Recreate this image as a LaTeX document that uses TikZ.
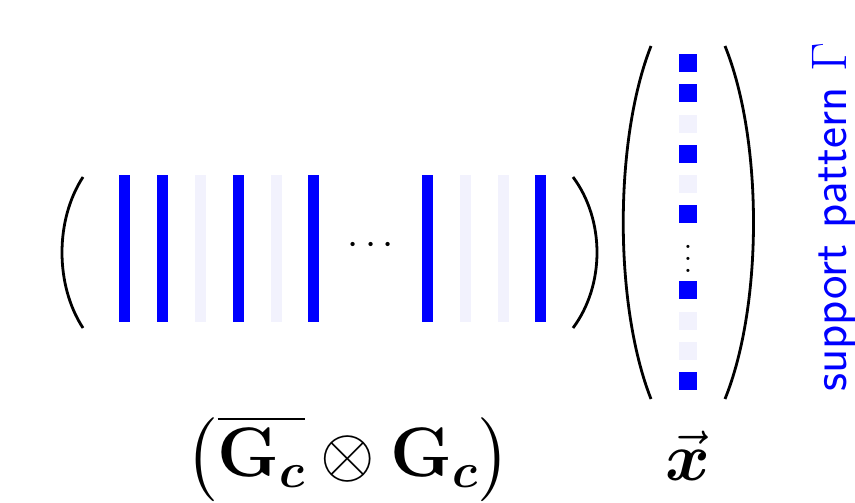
\documentclass[tikz,border=0pt]{standalone}
\usepackage{fix-cm}
\usepackage{amsmath,amssymb}
\definecolor{lightbar}{RGB}{242,242,253}
\tikzset{
  paren/.style={line width=2.8pt},
  fullbar/.style={fill=blue},
  emptybar/.style={fill=lightbar},
}
\begin{document}
\begin{tikzpicture}[x=1pt,y=-1pt]
\useasboundingbox (0,0) rectangle (855,503);
% matrix parentheses
\draw[paren] (83,177) .. controls (55,220) and (55,285) .. (83,328);
\draw[paren] (573,177) .. controls (605,220) and (605,285) .. (573,328);
% columns
\foreach \l/\s in {119/fullbar,157/fullbar,195/emptybar,233/fullbar,271/emptybar,308/fullbar,422/fullbar,460/emptybar,498/emptybar,535/fullbar}
  \fill[\s] (\l,175) rectangle ++(11,147);
\node (hd) at (374,246) {\fontsize{40}{48}\selectfont$\cdots$};
% vector parentheses
\draw[paren] (651,46) .. controls (614,140) and (614,305) .. (651,399);
\draw[paren] (725,46) .. controls (763,140) and (763,305) .. (725,399);
% entries
\foreach \t/\s in {54/fullbar,84/fullbar,115/emptybar,145/fullbar,175/emptybar,205/fullbar,281/fullbar,312/emptybar,342/emptybar,372/fullbar}
  \fill[\s] (679,\t) rectangle ++(18,18);
\node (vd) at (688,250) {\scalebox{3}{$\vdots$}};
% label
\node[rotate=90,text=blue,font=\sffamily\fontsize{50}{60}\selectfont] (sp) at (834,217) {support pattern $\Gamma$};
% bottom formulas
\node (gc) at (348,458) {\fontsize{70}{84}\selectfont$\bigl(\overline{\mathbf{G}_{\boldsymbol{c}}}\otimes\mathbf{G}_{\boldsymbol{c}}\bigr)$};
\node (xv) at (688,456) {\fontsize{68}{80}\selectfont$\vec{\boldsymbol{x}}$};
\end{tikzpicture}
\end{document}
